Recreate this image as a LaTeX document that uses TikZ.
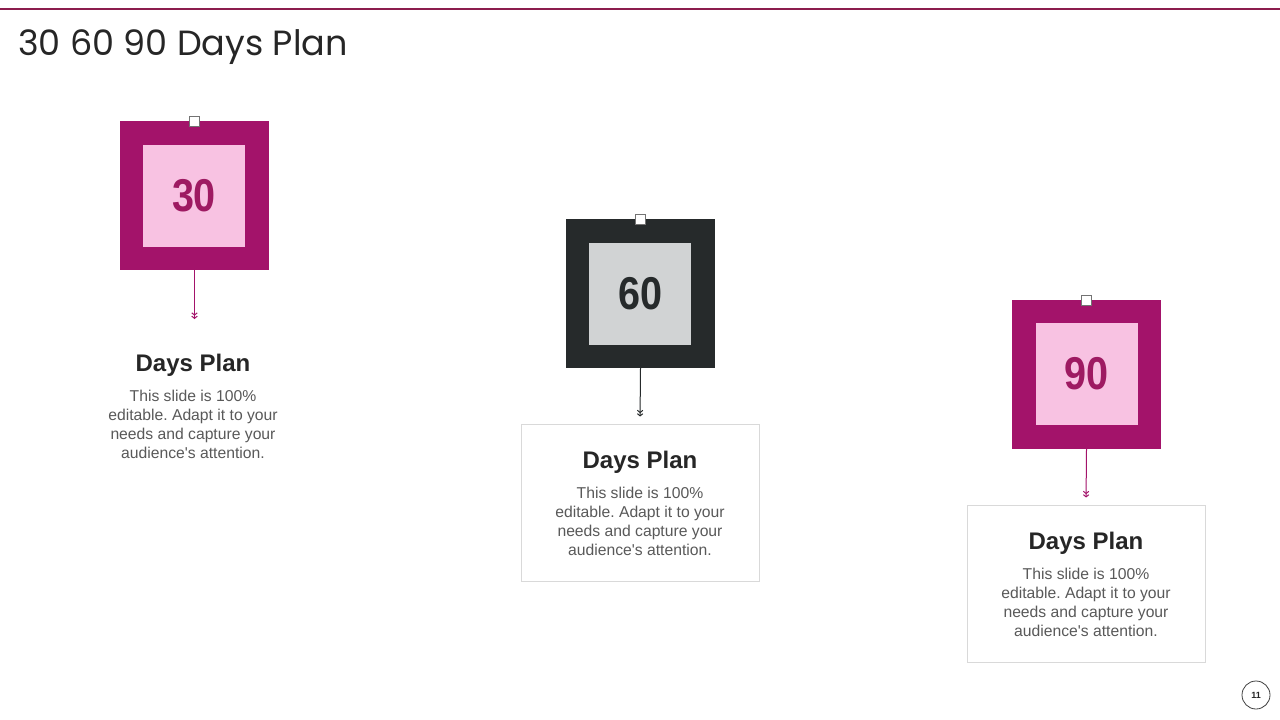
\documentclass[tikz,border=0pt]{standalone}
\usepackage{fontspec}
\setmainfont{Liberation Sans}
\newfontfamily\titlefont{Poppins}
\newfontfamily\numfont[FakeStretch=0.86]{Liberation Sans}
\usetikzlibrary{arrows.meta}
\frenchspacing
\definecolor{topline}{HTML}{8C1D4E}
\definecolor{mag}{HTML}{A3136A}
\definecolor{pinkin}{HTML}{F8C2E2}
\definecolor{numcol}{HTML}{9E1A62}
\definecolor{dark}{HTML}{262A2B}
\definecolor{lgray}{HTML}{D1D3D4}
\definecolor{headcol}{HTML}{262626}
\definecolor{bodycol}{HTML}{595959}
\definecolor{boxline}{HTML}{D9D9D9}
\newcommand{\bodytext}{This slide is 100\% \\ editable. Adapt it to your\\ needs and capture your\\ audience\textquotesingle s attention.}
\tikzset{
  outerbox/.style={minimum size=149pt, inner sep=0, draw=none},
  innerbox/.style={minimum size=102pt, inner sep=0, draw=none, font=\numfont\bfseries\fontsize{46}{50}\selectfont},
  tab/.style={minimum size=10pt, inner sep=0, fill=white, draw=black!55, line width=0.6pt},
  arr/.style={line width=1pt, -{Straight Barb[length=2.2pt,width=5.5pt] Straight Barb[length=2.2pt,width=5.5pt]}},
  head/.style={anchor=base, inner sep=0, text=headcol, font=\bfseries\fontsize{24}{28}\selectfont},
  body/.style={anchor=north, inner sep=0, text=bodycol, align=center, font=\fontsize{15.7}{19}\selectfont},
  textbox/.style={draw=boxline, line width=1pt, minimum width=238pt, minimum height=157pt, inner sep=0}
}
\begin{document}
\begin{tikzpicture}[x=1pt,y=-1pt]
\useasboundingbox (0,0) rectangle (1280,720);
\fill[white] (0,0) rectangle (1280,720);
\draw[topline, line width=2pt] (0,9) -- (1280,9);
\node[anchor=base west, inner sep=0, text=headcol, font=\titlefont\fontsize{35}{40}\selectfont] (title) at (18,55) {30 60 90 Days Plan};

% 30
\node[outerbox, fill=mag] (o1) at (194.5,195.5) {};
\node[innerbox, fill=pinkin, text=numcol] (i1) at (194,196) {30};
\node[tab] (k1) at (o1.north) {};
\coordinate (c1) at (194.5,319);
\draw[arr, mag] (o1.south) -- (c1);
\node[head] (h1) at (193,371) {Days Plan};
\node[body] (b1) at (193,389.5) {\bodytext};

% 60
\node[outerbox, fill=dark] (o2) at (640.5,293.5) {};
\node[innerbox, fill=lgray, text=dark] (i2) at (640,293.5) {60};
\node[tab] (k2) at (o2.north) {};
\node[textbox] (t2) at (640,502.5) {};
\draw[arr, dark] (o2.south) -- (t2.north) [shorten >=7pt];
\node[head] (h2) at (640,468) {Days Plan};
\node[body] (b2) at (640,486.5) {\bodytext};

% 90
\node[outerbox, fill=mag] (o3) at (1086.5,374.5) {};
\node[innerbox, fill=pinkin, text=numcol] (i3) at (1086.5,374) {90};
\node[tab] (k3) at (o3.north) {};
\node[textbox] (t3) at (1086,583.5) {};
\draw[arr, mag] (o3.south) -- (t3.north) [shorten >=7pt];
\node[head] (h3) at (1086,549) {Days Plan};
\node[body] (b3) at (1086,567.5) {\bodytext};

% page number
\node[circle, draw=black!75, line width=0.8pt, minimum size=28pt, inner sep=0, font=\bfseries\fontsize{9}{10}\selectfont, text=headcol] (pg) at (1256,695) {11};
\end{tikzpicture}
\end{document}
